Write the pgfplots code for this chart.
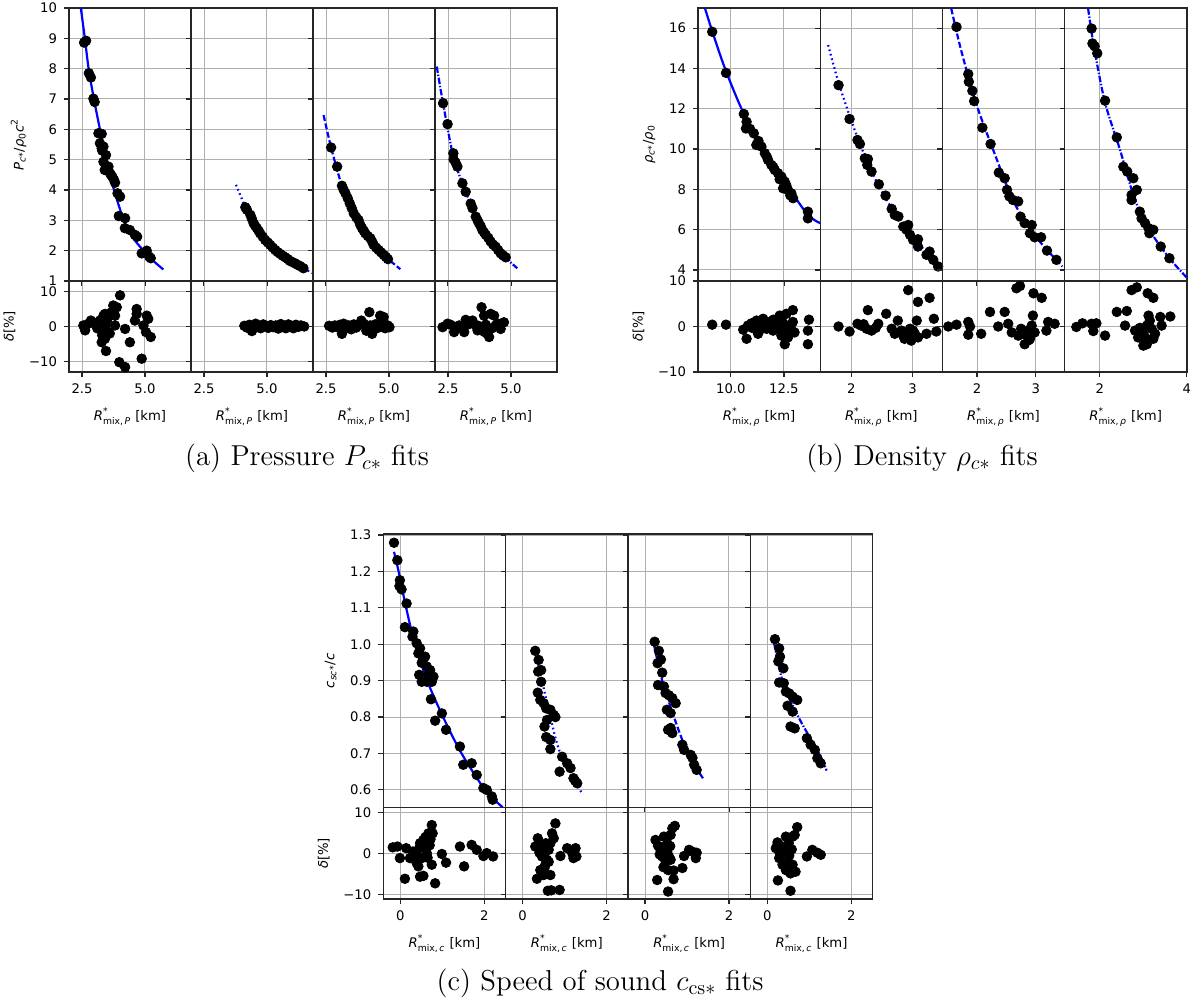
\documentclass[border=0pt]{standalone}
\usepackage{amsmath}
\usepackage{fontspec}
\usepackage{pgfplots}
\pgfplotsset{compat=1.18}
\newfontfamily\dejavu{DejaVu Sans}
\definecolor{gridc}{HTML}{B0B0B0}
\newcommand\tf{\dejavu\fontsize{6.6}{7.5}\selectfont}
\newcommand\Rlab[1]{\textit{R}$^{\text{*}}_{\text{mix,\,#1}}$ [km]}
\newcommand\dlab{\textit{δ}[\%]}
\pgfplotsset{
  pan/.style={scale only axis, anchor=north west,
    axis line style={black!85, line width=0.7pt},
    tick style={black!85, line width=0.6pt}, tick align=outside, major tick length=2.5pt,
    xtick pos=bottom, ytick pos=left,
    grid=major, major grid style={gridc, line width=0.5pt},
    ticklabel style={font=\tf}, label style={font=\tf}},
  dots/.style={only marks, mark=*, mark size=2.4pt, black},
  fit/.style={blue, line width=1.1pt, smooth},
  ls1/.style={},
  ls2/.style={dash pattern=on 0.8pt off 1.5pt},
  ls3/.style={dash pattern=on 3pt off 1.3pt},
  ls4/.style={dash pattern=on 3.2pt off 0.9pt on 0.7pt off 0.9pt},
  topA/.style={pan, width=61pt, height=136.5pt, xmin=1.98, xmax=6.83, ymin=1, ymax=10, xtick={2.5,5}, xticklabels={}, ytick={1,2,3,4,5,6,7,8,9,10}, yticklabels={}},
  botA/.style={pan, width=61pt, height=45.5pt, xmin=1.98, xmax=6.83, ymin=-13, ymax=13, xtick={2.5,5}, xticklabels={2.5,5.0}, ytick={-10,0,10}, yticklabels={}, xlabel={\Rlab{\textit{P}}}},
  topB/.style={pan, width=61.1pt, height=136.5pt, ymin=3.45, ymax=17, xticklabels={}, ytick={4,6,8,10,12,14,16}, yticklabels={}},
  botB/.style={pan, width=61.1pt, height=45.5pt, ymin=-10, ymax=10, ytick={-10,0,10}, yticklabels={}, xlabel={\Rlab{\textit{ρ}}}},
  topC/.style={pan, width=61.18pt, height=136.85pt, xmin=-0.405, xmax=2.51, ymin=0.551, ymax=1.303, xtick={0,2}, xticklabels={}, ytick={0.6,0.7,0.8,0.9,1.0,1.1,1.2,1.3}, yticklabels={}},
  botC/.style={pan, width=61.18pt, height=45.65pt, xmin=-0.405, xmax=2.51, ymin=-11, ymax=11.1, xtick={0,2}, xticklabels={0,2}, ytick={-10,0,10}, yticklabels={}, xlabel={\Rlab{\textit{c}}}},
}
\begin{document}
\begin{tikzpicture}
\path[use as bounding box] (0,0) rectangle (599pt,-502.5pt);
% ================= (a) =================
\begin{axis}[topA, at={(34.5pt,-4pt)}, yticklabels={1,2,3,4,5,6,7,8,9,10},
  ylabel={\textit{P}$_{\text{\textit{c}*}}$/\textit{ρ}$_{\text{0}}$\textit{c}$^{\text{2}}$}]
\addplot[dots] coordinates {(2.58,8.86)(2.66,8.92)(2.77,7.85)(2.85,7.71)(2.95,7.01)(3.00,6.90)(3.15,5.87)(3.28,5.85)(3.21,5.54)(3.35,5.43)(3.28,5.37)(3.45,5.15)(3.35,4.93)(3.40,4.66)(3.55,4.77)(3.61,4.55)(3.70,4.44)(3.77,4.33)(3.81,4.24)(3.91,3.89)(4.01,3.78)(3.96,3.14)(4.21,3.07)(4.20,2.74)(4.40,2.68)(4.60,2.52)(4.69,2.46)(4.87,1.91)(5.07,2.00)(5.17,1.80)(5.23,1.75)(3.50,4.70)(3.65,4.50)(3.30,5.30)};
\addplot[fit, ls1] coordinates {(2.45,10)(2.61,9)(2.76,8)(2.97,7)(3.21,6)(3.45,5)(3.77,4)(4.16,3)(4.50,2.45)(4.94,2)(5.35,1.65)(5.73,1.38)};
\end{axis}
\begin{axis}[botA, at={(34.5pt,-140.5pt)}, yticklabels={−10,0,10}, ylabel={\dlab}]
\addplot[dots] coordinates {(2.55,0.3)(2.62,-1.1)(2.75,0.8)(2.85,1.7)(2.98,1.0)(3.08,0.8)(3.21,1.7)(3.21,-0.7)(3.28,-1.1)(3.35,3.1)(3.41,3.6)(3.48,2.7)(3.45,0.3)(3.54,-1.6)(3.41,-3.5)(3.28,-4.5)(3.45,-7.0)(3.67,4.1)(3.74,6.0)(3.88,5.5)(3.81,3.1)(3.81,0.3)(4.01,8.9)(4.21,-0.7)(4.40,-4.5)(3.98,-10.2)(4.21,-11.6)(4.67,5.0)(4.67,3.6)(4.60,1.7)(4.87,-9.2)(5.07,3.1)(5.13,2.2)(5.04,-1.6)(5.23,-3.0)(4.94,0.3)(3.10,-0.5)(3.15,0.5)(3.30,1.5)(3.50,2.0)(3.60,-2.0)(3.30,-2.5)};
\end{axis}
\begin{axis}[topA, at={(95.5pt,-4pt)}]
\addplot[dots] coordinates {(4.14,3.43)(4.20,3.35)(4.34,3.18)(4.40,3.05)(4.47,2.90)(4.53,2.82)(4.60,2.74)(4.67,2.65)(4.73,2.57)(4.83,2.46)(4.93,2.35)(5.03,2.27)(5.13,2.19)(5.23,2.10)(5.33,2.02)(5.43,1.95)(5.53,1.89)(5.63,1.83)(5.73,1.78)(5.83,1.72)(5.92,1.66)(6.02,1.62)(6.12,1.58)(6.22,1.53)(6.32,1.49)(6.45,1.42)};
\addplot[fit, ls2] coordinates {(3.77,4.17)(4.14,3.45)(4.60,2.78)(5.13,2.20)(5.73,1.78)(6.32,1.48)(6.83,1.25)};
\end{axis}
\begin{axis}[botA, at={(95.5pt,-140.5pt)}]
\addplot[dots] coordinates {(4.10,0.2)(4.20,-0.3)(4.30,0.5)(4.40,-1.3)(4.45,-0.6)(4.55,0.8)(4.65,0.2)(4.75,-0.5)(4.85,0.6)(4.95,0.1)(5.05,-0.4)(5.15,0.4)(5.25,-0.2)(5.35,0.3)(5.45,-0.6)(5.55,0.7)(5.65,0.0)(5.75,-0.5)(5.85,0.6)(5.95,0.2)(6.05,-0.5)(6.15,0.5)(6.25,-0.1)(6.35,0.3)(6.48,0.0)};
\end{axis}
\begin{axis}[topA, at={(156.5pt,-4pt)}]
\addplot[dots] coordinates {(2.70,5.40)(2.94,4.77)(3.13,4.14)(3.20,4.00)(3.27,3.89)(3.36,3.73)(3.44,3.56)(3.52,3.40)(3.60,3.23)(3.70,3.10)(3.79,3.01)(3.86,2.85)(3.93,2.74)(4.00,2.65)(4.06,2.57)(4.16,2.48)(4.26,2.41)(4.33,2.30)(4.39,2.19)(4.49,2.10)(4.59,2.02)(4.69,1.94)(4.79,1.86)(4.88,1.79)(4.96,1.72)};
\addplot[fit, ls3] coordinates {(2.40,6.47)(2.70,5.40)(3.13,4.14)(3.60,3.23)(4.06,2.57)(4.59,2.02)(5.00,1.70)(5.45,1.39)};
\end{axis}
\begin{axis}[botA, at={(156.5pt,-140.5pt)}]
\addplot[dots] coordinates {(2.62,0.2)(2.75,-0.3)(2.85,0.3)(2.95,-0.2)(3.05,0.5)(3.13,-2.1)(3.20,0.8)(3.30,-0.4)(3.40,0.3)(3.50,-0.8)(3.60,0.6)(3.70,-0.3)(3.80,0.4)(3.90,1.7)(4.00,0.8)(4.10,-1.2)(4.22,4.1)(4.25,0.3)(4.33,-2.1)(4.45,0.6)(4.55,-0.4)(4.60,0.8)(4.65,3.1)(4.79,2.7)(4.80,0.2)(4.85,-0.5)(4.95,0.3)(5.02,-0.2)};
\end{axis}
\begin{axis}[topA, at={(217.5pt,-4pt)}]
\addplot[dots] coordinates {(2.30,6.86)(2.48,6.17)(2.71,5.21)(2.72,5.01)(2.80,4.90)(2.87,4.77)(3.07,4.22)(3.20,3.94)(3.40,3.55)(3.47,3.40)(3.60,3.12)(3.67,3.00)(3.73,2.90)(3.80,2.80)(3.86,2.68)(3.93,2.60)(4.00,2.52)(4.10,2.42)(4.19,2.30)(4.29,2.20)(4.39,2.13)(4.49,2.02)(4.59,1.91)(4.69,1.84)(4.79,1.78)};
\addplot[fit, ls4] coordinates {(2.05,8.07)(2.30,6.86)(2.71,5.10)(3.20,3.94)(3.73,2.90)(4.39,2.13)(4.79,1.76)(5.25,1.42)};
\end{axis}
\begin{axis}[botA, at={(217.5pt,-140.5pt)}]
\addplot[dots] coordinates {(2.28,-0.2)(2.48,0.8)(2.74,-1.6)(2.94,0.3)(3.14,-1.6)(3.20,1.9)(3.47,1.7)(3.60,0.3)(3.83,5.5)(3.93,3.1)(4.19,3.6)(4.33,3.1)(4.06,-2.1)(4.13,-3.0)(3.86,-1.1)(4.39,0.3)(4.72,1.2)(4.59,-0.7)(3.67,-1.1)(2.60,0.5)(2.85,-0.3)(3.30,0.6)(3.70,0.2)(4.00,0.5)(4.25,-0.5)(4.50,0.8)(3.95,-1.6)};
\end{axis}
% ================= (b) =================
\begin{axis}[topB, at={(349pt,-4pt)}, xmin=8.45, xmax=14.21, xtick={10,12.5}, yticklabels={4,6,8,10,12,14,16},
  ylabel={\textit{ρ}$_{\text{\textit{c}*}}$/\textit{ρ}$_{\text{0}}$}]
\addplot[dots] coordinates {(9.12,15.82)(9.77,13.78)(10.61,11.74)(10.74,11.35)(10.71,11.02)(11.08,10.78)(11.20,10.20)(11.44,10.12)(11.60,9.79)(11.75,9.46)(11.91,9.21)(12.07,8.96)(12.22,8.80)(12.38,8.63)(12.54,8.38)(12.46,8.05)(12.69,7.97)(12.85,7.80)(12.93,7.56)(12.61,8.20)(13.63,6.89)(13.63,6.56)(11.30,10.40)(11.70,9.60)(12.00,9.10)(12.30,8.50)(12.80,7.70)(10.90,11.00)};
\addplot[fit, ls1] coordinates {(8.78,16.98)(9.12,15.85)(9.72,14)(10.50,12)(11.44,10)(12.77,8)(13.63,6.73)(14.21,6.32)};
\end{axis}
\begin{axis}[botB, at={(349pt,-140.5pt)}, xmin=8.45, xmax=14.21, xtick={10,12.5}, xticklabels={10.0,12.5}, yticklabels={−10,0,10}, ylabel={\dlab}]
\addplot[dots] coordinates {(9.12,0.4)(9.77,0.4)(10.58,-0.7)(10.74,-2.7)(10.97,0.7)(11.21,1.3)(11.28,-1.6)(11.52,1.7)(11.68,-0.5)(11.83,1.0)(11.99,-0.9)(12.15,1.3)(12.30,2.4)(12.38,-2.0)(12.54,-3.9)(12.62,2.8)(12.77,0.2)(12.92,3.6)(13.00,-1.3)(12.92,1.0)(13.68,1.5)(13.63,-0.9)(13.63,-3.9)(12.69,-2.4)(10.80,0.2)(11.00,-0.3)(11.10,0.8)(11.40,0.3)(11.60,0.9)(11.90,0.2)(12.10,-0.4)(12.20,0.6)(12.45,-1.0)(12.50,0.5)(12.60,-1.5)(12.85,-0.6)(12.40,1.8)(11.35,-0.8)(12.00,1.5)};
\end{axis}
\begin{axis}[topB, at={(410.1pt,-4pt)}, xmin=1.49, xmax=3.49, xtick={2,3}]
\addplot[dots] coordinates {(1.79,13.17)(1.97,11.49)(2.10,10.45)(2.14,10.25)(2.22,9.54)(2.27,9.50)(2.26,9.21)(2.33,8.88)(2.45,8.25)(2.56,7.69)(2.66,7.03)(2.71,6.73)(2.77,6.65)(2.85,6.15)(2.93,6.23)(2.96,5.74)(3.01,5.49)(3.09,5.52)(3.09,5.16)(3.23,4.75)(3.28,4.91)(3.34,4.50)(3.42,4.17)(2.90,6.00)};
\addplot[fit, ls2] coordinates {(1.62,15.16)(1.79,13.30)(2.00,11.40)(2.18,9.95)(2.44,8.21)(2.85,6.15)(3.10,5.30)(3.48,4.04)};
\end{axis}
\begin{axis}[botB, at={(410.1pt,-140.5pt)}, xmin=1.49, xmax=3.49, xtick={2,3}, xticklabels={2,3}]
\addplot[dots] coordinates {(1.79,0.0)(1.97,-1.1)(2.10,0.6)(2.16,0.2)(2.27,3.6)(2.25,-0.5)(2.33,-0.9)(2.44,0.6)(2.57,2.8)(2.66,-0.5)(2.71,-1.6)(2.76,1.3)(2.85,-2.0)(2.87,-2.7)(2.93,8.0)(2.96,-0.5)(2.98,-3.1)(3.04,-1.6)(3.07,1.3)(3.09,5.4)(3.09,-2.4)(3.23,-1.6)(3.28,6.3)(3.35,1.7)(3.39,-1.1)(2.82,-0.9)(2.90,-1.6)(3.01,-0.9)(2.20,0.5)(2.40,-0.3)};
\end{axis}
\begin{axis}[topB, at={(471.2pt,-4pt)}, xmin=1.41, xmax=3.49, xtick={2,3}]
\addplot[dots] coordinates {(1.65,16.06)(1.85,13.72)(1.86,13.34)(1.92,12.89)(1.95,12.38)(2.09,11.06)(2.23,10.25)(2.37,8.83)(2.47,8.55)(2.51,7.97)(2.55,7.65)(2.61,7.47)(2.70,7.40)(2.74,6.64)(2.81,6.32)(2.93,6.23)(2.90,5.82)(2.98,5.62)(3.09,5.62)(3.19,4.96)(3.35,4.50)};
\addplot[fit, ls3] coordinates {(1.56,16.98)(1.72,15)(1.98,12.3)(2.27,9.99)(2.61,7.47)(2.95,5.82)(3.45,4.17)};
\end{axis}
\begin{axis}[botB, at={(471.2pt,-140.5pt)}, xmin=1.41, xmax=3.49, xtick={2,3}, xticklabels={2,3}]
\addplot[dots] coordinates {(1.51,0.0)(1.65,0.4)(1.85,1.0)(1.88,0.0)(1.85,-1.8)(2.07,-1.6)(2.22,3.2)(2.36,0.0)(2.47,3.2)(2.53,0.6)(2.59,-1.3)(2.67,8.4)(2.73,8.9)(2.70,-2.0)(2.78,-1.6)(2.81,-3.9)(2.87,-0.9)(2.90,-2.7)(2.93,0.2)(2.95,2.4)(2.96,7.3)(2.98,-1.3)(3.10,6.3)(3.21,1.0)(3.32,0.6)(3.18,-0.9)(2.84,-1.8)(2.75,-0.5)(2.92,-1.5)(2.88,-3.0)};
\end{axis}
\begin{axis}[topB, at={(532.3pt,-4pt)}, xmin=1.19, xmax=4.0, xtick={2,4}]
\addplot[dots] coordinates {(1.81,15.98)(1.83,15.24)(1.88,15.10)(1.94,14.75)(2.12,12.40)(2.39,10.58)(2.54,9.12)(2.63,8.88)(2.77,8.55)(2.85,7.97)(2.73,7.72)(2.73,7.47)(2.92,6.89)(2.96,6.56)(3.04,6.32)(3.12,6.07)(3.23,5.99)(3.14,5.82)(3.40,5.16)(3.60,4.58)};
\addplot[fit, ls4] coordinates {(1.73,16.98)(1.87,15)(2.12,12.3)(2.46,9.99)(2.81,7.47)(3.19,5.82)(3.60,4.58)(3.99,3.64)};
\end{axis}
\begin{axis}[botB, at={(532.3pt,-140.5pt)}, xmin=1.19, xmax=4.0, xtick={2,4}, xticklabels={2,4}]
\addplot[dots] coordinates {(1.46,-0.1)(1.60,0.7)(1.81,0.6)(1.92,0.7)(1.85,-1.0)(2.12,-2.0)(2.39,3.2)(2.62,3.4)(2.58,0.2)(2.73,8.0)(2.85,8.6)(2.81,-0.9)(2.88,-2.4)(3.00,-4.2)(3.08,-3.9)(3.00,-1.6)(3.10,7.3)(3.23,6.3)(3.12,2.4)(3.15,1.3)(3.19,-0.5)(3.27,-1.6)(3.23,-2.7)(3.39,2.1)(3.42,0.2)(3.62,2.2)(3.08,0.2)(2.95,-1.2)(3.05,-2.5)(2.92,-0.3)};
\end{axis}
% ================= (c) =================
\begin{axis}[topC, at={(191.65pt,-267pt)}, yticklabels={0.6,0.7,0.8,0.9,1.0,1.1,1.2,1.3},
  ylabel={\textit{c}$_{\text{\textit{sc}*}}$/\textit{c}}]
\addplot[dots] coordinates {(-0.15,1.279)(-0.07,1.231)(-0.01,1.176)(-0.02,1.160)(0.03,1.151)(0.15,1.112)(0.11,1.047)(0.31,1.035)(0.29,1.021)(0.39,1.003)(0.43,0.975)(0.47,0.989)(0.51,0.949)(0.45,0.916)(0.51,0.897)(0.59,0.966)(0.63,0.939)(0.71,0.929)(0.79,0.911)(0.75,0.897)(0.63,0.897)(0.73,0.849)(0.83,0.790)(0.99,0.810)(1.09,0.765)(1.42,0.719)(1.50,0.669)(1.70,0.673)(1.82,0.641)(1.98,0.605)(2.06,0.600)(2.18,0.582)(2.20,0.573)(0.55,0.960)(0.67,0.915)};
\addplot[fit, ls1] coordinates {(-0.15,1.254)(-0.04,1.2)(0.14,1.1)(0.35,1.0)(0.64,0.9)(1.02,0.8)(1.46,0.7)(2.02,0.6)(2.44,0.552)};
\end{axis}
\begin{axis}[botC, at={(191.65pt,-403.85pt)}, yticklabels={−10,0,10}, ylabel={\dlab}]
\addplot[dots] coordinates {(-0.18,1.5)(-0.07,1.7)(-0.01,-1.1)(0.11,-6.1)(0.14,1.3)(0.23,-1.1)(0.35,-0.3)(0.39,-2.3)(0.43,-3.1)(0.45,1.3)(0.47,2.5)(0.47,-5.6)(0.55,-5.4)(0.51,-1.1)(0.55,3.3)(0.61,2.9)(0.67,4.9)(0.75,6.9)(0.77,4.9)(0.63,0.1)(0.75,-2.7)(0.83,-7.2)(0.99,-0.1)(1.09,-2.2)(1.42,1.7)(1.52,-3.1)(1.70,2.1)(1.82,0.9)(1.98,-0.6)(2.06,0.1)(2.21,-0.7)(0.30,0.5)(0.40,-0.8)(0.58,1.5)(0.65,-1.0)(0.70,2.0)(0.60,4.0)(0.72,3.5)};
\end{axis}
\begin{axis}[topC, at={(252.83pt,-267pt)}]
\addplot[dots] coordinates {(0.30,0.982)(0.38,0.957)(0.37,0.925)(0.44,0.929)(0.44,0.897)(0.36,0.867)(0.42,0.847)(0.50,0.838)(0.56,0.824)(0.66,0.820)(0.74,0.806)(0.78,0.800)(0.58,0.792)(0.52,0.774)(0.56,0.745)(0.66,0.737)(0.66,0.712)(0.94,0.691)(1.06,0.673)(1.14,0.660)(0.88,0.650)(1.21,0.632)(1.30,0.618)(1.25,0.625)};
\addplot[fit, ls2] coordinates {(0.30,0.98)(0.46,0.9)(0.66,0.8)(0.90,0.7)(1.41,0.591)};
\end{axis}
\begin{axis}[botC, at={(252.83pt,-403.85pt)}]
\addplot[dots] coordinates {(0.30,1.7)(0.36,3.7)(0.42,2.1)(0.34,-6.1)(0.42,-4.0)(0.50,-5.2)(0.58,-1.5)(0.62,0.9)(0.66,2.5)(0.70,4.9)(0.74,3.7)(0.78,7.3)(0.50,0.1)(0.54,-2.7)(0.66,-5.2)(0.60,-9.0)(0.68,-8.9)(0.88,-8.8)(0.90,-0.6)(1.06,1.3)(1.18,0.1)(1.26,1.3)(1.28,-0.7)(0.46,-0.7)(0.58,1.7)(0.52,-3.5)(0.46,1.0)(0.40,0.2)(0.55,2.5)(0.62,-2.0)(1.21,-1.1)};
\end{axis}
\begin{axis}[topC, at={(314.0pt,-267pt)}]
\addplot[dots] coordinates {(0.23,1.007)(0.33,0.982)(0.30,0.948)(0.38,0.958)(0.41,0.922)(0.31,0.888)(0.45,0.884)(0.49,0.866)(0.57,0.860)(0.65,0.852)(0.73,0.838)(0.52,0.820)(0.61,0.811)(0.55,0.765)(0.65,0.756)(0.61,0.770)(0.89,0.724)(0.93,0.710)(1.09,0.696)(1.13,0.688)(1.17,0.669)(1.23,0.655)};
\addplot[fit, ls3] coordinates {(0.21,1.0)(0.41,0.9)(0.69,0.8)(1.02,0.7)(1.38,0.632)};
\end{axis}
\begin{axis}[botC, at={(314.0pt,-403.85pt)}]
\addplot[dots] coordinates {(0.31,1.9)(0.25,3.3)(0.37,0.9)(0.45,4.1)(0.53,2.5)(0.61,4.5)(0.65,6.1)(0.71,6.7)(0.41,-0.7)(0.49,-1.9)(0.57,-0.7)(0.44,-3.3)(0.55,-4.0)(0.68,-4.1)(0.89,-3.5)(0.29,-6.4)(0.68,-6.2)(0.55,-9.2)(0.93,-0.6)(1.05,0.9)(1.23,0.2)(1.21,-1.1)(0.61,-1.5)(0.53,0.5)(0.35,-0.2)(0.47,1.2)(0.60,1.8)(1.12,0.5)};
\end{axis}
\begin{axis}[topC, at={(375.2pt,-267pt)}]
\addplot[dots] coordinates {(0.18,1.014)(0.28,0.989)(0.30,0.966)(0.26,0.953)(0.38,0.934)(0.28,0.895)(0.39,0.893)(0.44,0.870)(0.52,0.865)(0.60,0.856)(0.71,0.847)(0.48,0.831)(0.60,0.815)(0.55,0.774)(0.65,0.769)(0.94,0.742)(1.03,0.724)(1.13,0.710)(1.19,0.687)(1.27,0.673)};
\addplot[fit, ls4] coordinates {(0.16,1.003)(0.36,0.9)(0.74,0.8)(1.23,0.7)(1.41,0.653)};
\end{axis}
\begin{axis}[botC, at={(375.2pt,-403.85pt)}]
\addplot[dots] coordinates {(0.24,2.7)(0.20,1.3)(0.28,0.5)(0.36,1.7)(0.44,4.1)(0.51,2.5)(0.60,4.1)(0.65,4.5)(0.71,6.4)(0.28,-1.1)(0.36,-2.7)(0.48,-1.9)(0.44,-4.0)(0.60,-2.7)(0.67,-4.4)(0.55,-4.8)(0.25,-6.5)(0.55,-9.0)(0.94,-0.7)(1.07,0.9)(1.27,-0.3)(1.19,0.2)(0.40,0.3)(0.52,-0.5)(0.58,1.0)(0.33,0.2)};
\end{axis}
% ================= captions =================
\node[font=\Large] at (153.5pt,-229pt) {(a) Pressure $P_{c*}$ fits};
\node[font=\Large] at (461pt,-229pt) {(b) Density $\rho_{c*}$ fits};
\node[font=\Large] at (300pt,-491.5pt) {(c) Speed of sound $c_{\mathrm{cs}*}$ fits};
\end{tikzpicture}
\end{document}
